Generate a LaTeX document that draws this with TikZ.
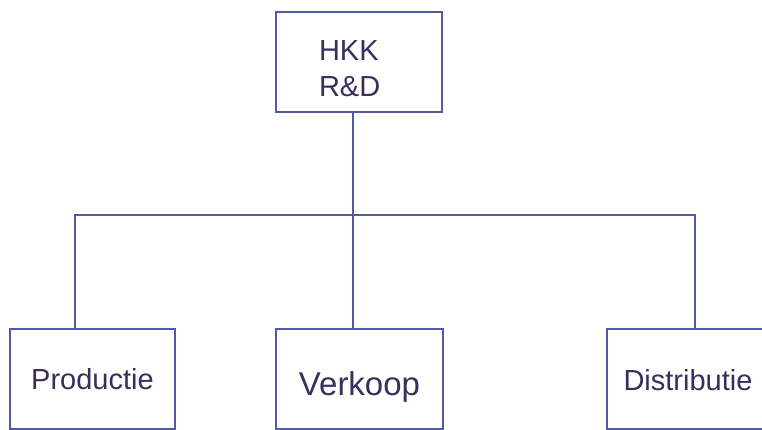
\documentclass[tikz,border=0pt]{standalone}
\usepackage{fontspec}
\setmainfont{Liberation Sans}
\definecolor{orgline}{RGB}{84,88,168}
\definecolor{orgtext}{RGB}{58,46,92}
\begin{document}
\begin{tikzpicture}
        [
        x=1pt, y=-1pt,
        unit/.style={draw=orgline, line width=1.5pt, text=orgtext,
          minimum height=100pt, font=\fontsize{29}{36}\selectfont},
        link/.style={draw=orgline, line width=1.5pt},
        ]
        \clip (0,0) rectangle (762,430);
        \fill[white] (0,0) rectangle (762,430);
        % head of the chart
        \node[unit, minimum width=166pt, text width=80pt, align=left,
          text height=38pt, text depth=40pt] (hkk) at (359,62) {HKK\\R\&D};
        % the three departments
        \node[unit, minimum width=165pt] (prod) at (92.5,379) {Productie};
        \node[unit, minimum width=167pt, text height=39pt, text depth=7pt,
          font=\fontsize{33}{38}\selectfont] (verk) at (359.5,379) {Verkoop};
        \node[unit, minimum width=162pt, text height=24pt] (dist) at (688,379) {Distributie};
        % bus between them
        \coordinate (bus) at (353,215);
        \coordinate (busl) at (75,215);
        \coordinate (busr) at (695,215);
        \draw[link] (hkk.south -| bus) -- (bus);
        \draw[link] (prod.north -| busl) |- (busr) -- (dist.north -| busr);
        \draw[link] (bus) -- (verk.north -| bus);
        \end{tikzpicture}
\end{document}
